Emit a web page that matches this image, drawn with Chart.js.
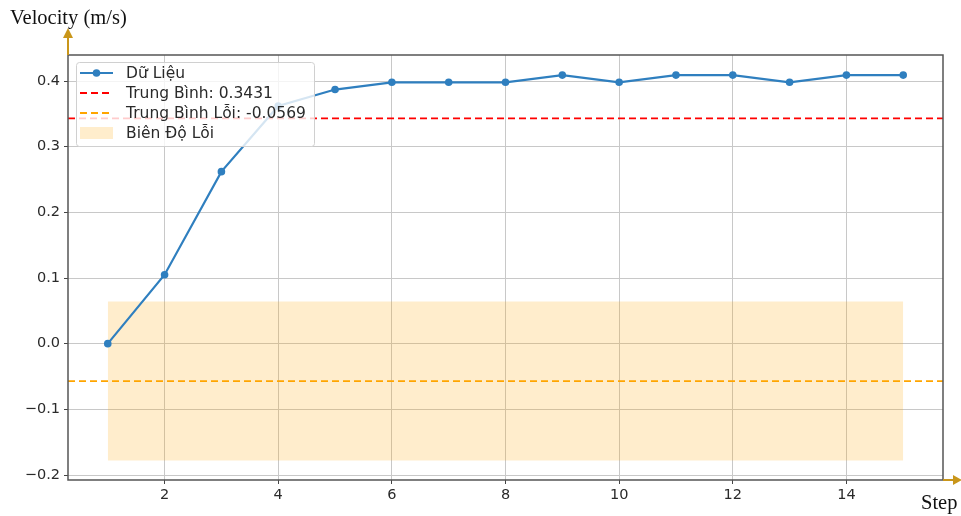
<!DOCTYPE html>
<html>
<head>
<meta charset="utf-8">
<script src="https://cdn.jsdelivr.net/npm/chart.js@4.4.1/dist/chart.umd.min.js"></script>
<style>
  html, body { margin: 0; padding: 0; background: #fff; }
  #wrap { width: 961px; height: 516px; position: relative; }
</style>
</head>
<body>
<div id="wrap"><canvas id="myChart" width="961" height="516"></canvas></div>
<script>
// data
const steps = [1, 2, 3, 4, 5, 6, 7, 8, 9, 10, 11, 12, 13, 14, 15];
const velocity = [0.0, 0.105, 0.262, 0.362, 0.387, 0.398, 0.398, 0.398, 0.409, 0.398, 0.409, 0.409, 0.398, 0.409, 0.409];
const meanValue = 0.3431;
const meanError = -0.0569;
const bandTop = 0.0642;
const bandBottom = -0.1779;
const xTicks = [2, 4, 6, 8, 10, 12, 14];
const yTicks = [-0.2, -0.1, 0.0, 0.1, 0.2, 0.3, 0.4];
const xRange = [0.3, 15.7];
const yRange = [-0.2076, 0.4396];

const legendItems = [
  { label: 'Dữ Liệu', kind: 'marker', color: '#2f7fbf' },
  { label: 'Trung Bình: ' + meanValue.toFixed(4), kind: 'dash', color: '#ff0000' },
  { label: 'Trung Bình Lỗi: ' + meanError.toFixed(4), kind: 'dash', color: '#ffa500' },
  { label: 'Biên Độ Lỗi', kind: 'patch', color: 'rgba(255,165,0,0.2)' }
];

const tickFont = { family: 'DejaVu Sans', size: 14.5 };

// legend inside the plot, like matplotlib's
const boxLegend = {
  id: 'boxLegend',
  afterDraw(chart) {
    const ctx = chart.ctx;
    const a = chart.chartArea;
    const x0 = a.left + 8, y0 = a.top + 7, w = 238, h = 84;
    ctx.save();
    ctx.fillStyle = 'rgba(255,255,255,0.8)';
    ctx.strokeStyle = '#d0d0d0';
    ctx.lineWidth = 1;
    ctx.beginPath();
    ctx.roundRect(x0 + 0.5, y0 + 0.5, w, h, 3);
    ctx.fill();
    ctx.stroke();
    ctx.font = '15.5px "DejaVu Sans"';
    ctx.textBaseline = 'middle';
    legendItems.forEach(function(it, i) {
      const cy = y0 + 11 + i * 20;
      const hx = x0 + 4;
      if (it.kind === 'marker') {
        ctx.strokeStyle = it.color;
        ctx.lineWidth = 2.2;
        ctx.setLineDash([]);
        ctx.beginPath(); ctx.moveTo(hx, cy); ctx.lineTo(hx + 33, cy); ctx.stroke();
        ctx.fillStyle = it.color;
        ctx.beginPath(); ctx.arc(hx + 16.5, cy, 3.8, 0, Math.PI * 2); ctx.fill();
      } else if (it.kind === 'dash') {
        ctx.strokeStyle = it.color;
        ctx.lineWidth = 2;
        ctx.setLineDash([7, 4]);
        ctx.beginPath(); ctx.moveTo(hx, cy); ctx.lineTo(hx + 33, cy); ctx.stroke();
        ctx.setLineDash([]);
      } else {
        ctx.fillStyle = it.color;
        ctx.fillRect(hx, cy - 6, 33, 12);
      }
      ctx.fillStyle = '#2a2a2a';
      ctx.fillText(it.label, x0 + 50, cy + 1);
    });
    ctx.restore();
  }
};

// frame, arrows and the serif axis titles
const decorations = {
  id: 'decorations',
  afterDraw(chart) {
    const ctx = chart.ctx;
    const a = chart.chartArea;
    ctx.save();
    ctx.strokeStyle = '#555';
    ctx.lineWidth = 1.5;
    ctx.strokeRect(a.left, a.top, a.right - a.left, a.bottom - a.top);

    const gold = '#c9961a';
    ctx.strokeStyle = gold;
    ctx.fillStyle = gold;
    ctx.lineWidth = 2;
    ctx.beginPath(); ctx.moveTo(a.left, a.top); ctx.lineTo(a.left, 36); ctx.stroke();
    ctx.beginPath(); ctx.moveTo(a.left - 5, 38); ctx.lineTo(a.left + 5, 38); ctx.lineTo(a.left, 28); ctx.closePath(); ctx.fill();
    ctx.beginPath(); ctx.moveTo(a.right, a.bottom); ctx.lineTo(955, a.bottom); ctx.stroke();
    ctx.beginPath(); ctx.moveTo(953, a.bottom - 5); ctx.lineTo(953, a.bottom + 5); ctx.lineTo(962, a.bottom); ctx.closePath(); ctx.fill();

    ctx.fillStyle = '#111';
    ctx.font = '20.5px "Liberation Serif"';
    ctx.textBaseline = 'alphabetic';
    ctx.fillText('Velocity (m/s)', 10, 24);
    ctx.fillText('Step', 921, 509);
    ctx.restore();
  }
};

const ctx = document.getElementById('myChart').getContext('2d');
const myChart = new Chart(ctx, {
  type: 'line',
  data: {
    datasets: [
      {
        label: 'Dữ Liệu',
        data: steps.map(function(s, i) { return { x: s, y: velocity[i] }; }),
        borderColor: '#2f7fbf',
        backgroundColor: '#2f7fbf',
        borderWidth: 2.2,
        pointRadius: 3.8,
        pointBorderWidth: 0,
        fill: false,
        tension: 0,
        order: 1
      },
      {
        label: 'Trung Bình',
        data: [{ x: xRange[0], y: meanValue }, { x: xRange[1], y: meanValue }],
        borderColor: '#ff0000',
        borderWidth: 1.8,
        borderDash: [7, 4],
        pointRadius: 0,
        fill: false,
        order: 2
      },
      {
        label: 'Trung Bình Lỗi',
        data: [{ x: xRange[0], y: meanError }, { x: xRange[1], y: meanError }],
        borderColor: '#ffa500',
        borderWidth: 1.8,
        borderDash: [7, 4],
        pointRadius: 0,
        fill: false,
        order: 3
      },
      {
        label: 'Biên Độ Lỗi',
        data: [{ x: steps[0], y: bandTop }, { x: steps[steps.length - 1], y: bandTop }],
        borderWidth: 0,
        borderColor: 'rgba(0,0,0,0)',
        backgroundColor: 'rgba(255,165,0,0.2)',
        pointRadius: 0,
        fill: { value: bandBottom },
        order: 4
      }
    ]
  },
  options: {
    responsive: false,
    animation: false,
    layout: { padding: { top: 55, right: 18, left: 0, bottom: 0 } },
    plugins: {
      legend: { display: false },
      tooltip: { enabled: false },
      filler: { drawTime: 'beforeDatasetsDraw' }
    },
    scales: {
      x: {
        type: 'linear',
        min: xRange[0],
        max: xRange[1],
        afterBuildTicks: function(axis) { axis.ticks = xTicks.map(function(v) { return { value: v }; }); },
        afterFit: function(axis) { axis.height = 36; },
        border: { display: false },
        grid: { color: '#c8c8c8', lineWidth: 1, tickColor: '#444', tickLength: 4 },
        ticks: { font: tickFont, color: '#2a2a2a', padding: 3, maxRotation: 0,
          callback: function(v) { return String(v); } }
      },
      y: {
        type: 'linear',
        min: yRange[0],
        max: yRange[1],
        afterBuildTicks: function(axis) { axis.ticks = yTicks.map(function(v) { return { value: v }; }); },
        afterFit: function(axis) { axis.width = 68; },
        border: { display: false },
        grid: { color: '#c8c8c8', lineWidth: 1, tickColor: '#444', tickLength: 4 },
        ticks: { font: tickFont, color: '#2a2a2a', padding: 4,
          callback: function(v) { return (v < 0 ? '\u2212' : '') + Math.abs(v).toFixed(1); } }
      }
    }
  },
  plugins: [decorations, boxLegend]
});
</script>
</body>
</html>
